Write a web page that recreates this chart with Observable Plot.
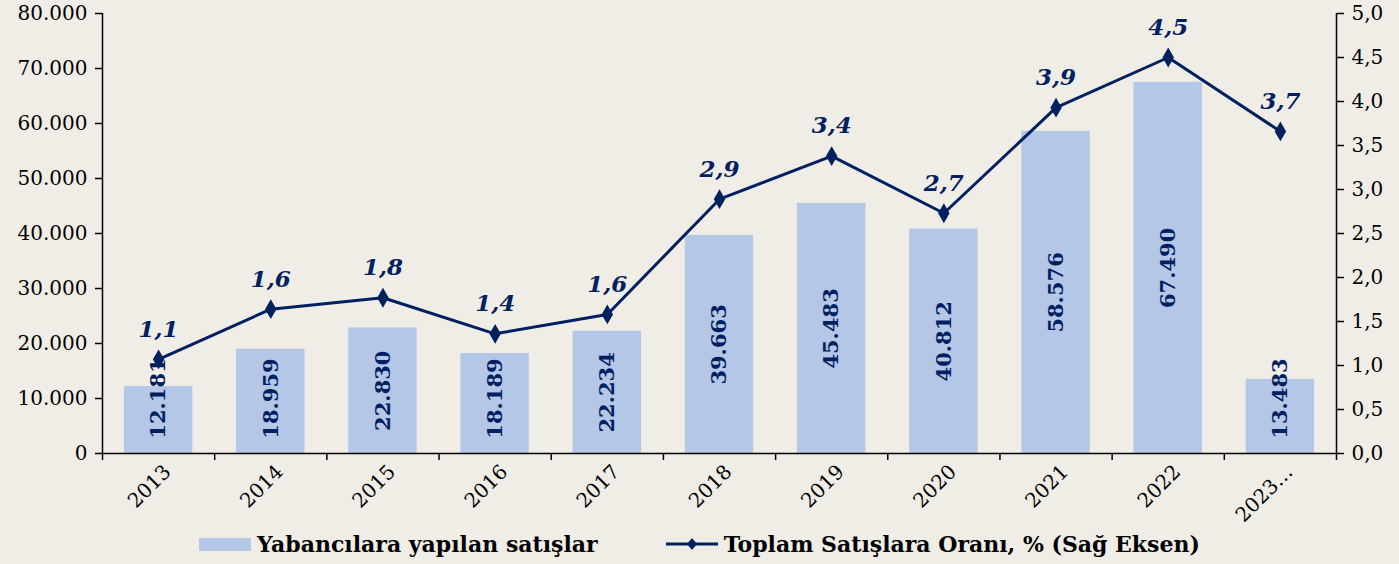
<!DOCTYPE html>
<html>
<head>
<meta charset="utf-8">
<script src="https://cdn.jsdelivr.net/npm/d3@7"></script>
<script src="https://cdn.jsdelivr.net/npm/@observablehq/plot@0.6"></script>
<style>
  html, body { margin: 0; padding: 0; background: #f0ede6; }
  body { width: 1399px; height: 564px; overflow: hidden; font-family: "DejaVu Serif", serif; }
  #chart svg { overflow: visible; display: block; }
  #legend { height: 40px; display: flex; justify-content: center; align-items: center; gap: 68px; font-weight: bold; font-size: 22px; color: #000; }
  .item { display: flex; align-items: center; gap: 6px; }
  .swatch { width: 52px; height: 13px; background: #b4c7e7; }
</style>
</head>
<body>
<div id="chart"></div>
<div id="legend">
  <div class="item"><div class="swatch"></div><span>Yabancılara yapılan satışlar</span></div>
  <div class="item"><svg width="52" height="16"><line x1="0" y1="8" x2="52" y2="8" stroke="#002060" stroke-width="3"/><path d="M26,2 L31,8 L26,14 L21,8 Z" fill="#002060"/></svg><span>Toplam Satışlara Oranı, % (Sağ Eksen)</span></div>
</div>
<script>
const years = ["2013","2014","2015","2016","2017","2018","2019","2020","2021","2022","2023…"];
const sales = [12181,18959,22830,18189,22234,39663,45483,40812,58576,67490,13483];
const ratio = [1.07,1.64,1.77,1.36,1.58,2.89,3.38,2.73,3.93,4.50,3.66];
const leftTicks = [0,10000,20000,30000,40000,50000,60000,70000,80000];
const rightTicks = [0,0.5,1,1.5,2,2.5,3,3.5,4,4.5,5];

const K = 80000 / 5; // right-axis factor
const gap = 0.195;
const navy = "#002060";
const rows = years.map((year, i) => ({i, year, sales: sales[i], ratio: ratio[i]}));
const fmtLeft = d => d3.format(",")(d).replace(/,/g, ".");
const fmtRight = d => (d / K).toFixed(1).replace(".", ",");

const chart = Plot.plot({
  width: 1399,
  height: 524,
  marginTop: 13,
  marginBottom: 71,
  marginLeft: 102,
  marginRight: 63,
  style: {fontFamily: "DejaVu Serif, serif", fontSize: "20px", background: "#f0ede6", color: "#000", overflow: "visible"},
  x: {domain: [0, years.length], axis: null},
  y: {domain: [0, 80000], axis: null},
  marks: [
    Plot.rectY(rows, {x1: d => d.i + gap, x2: d => d.i + 1 - gap, y: "sales", fill: "#b4c7e7"}),
    Plot.ruleY([0], {stroke: "#000", strokeWidth: 1.5}),
    Plot.ruleX([0, years.length], {y1: 0, y2: 80000, stroke: "#000", strokeWidth: 1.5}),
    Plot.axisY({anchor: "left", ticks: leftTicks, tickSize: 7, tickPadding: 8, tickFormat: fmtLeft, label: null, strokeWidth: 1.5}),
    Plot.axisY({anchor: "right", ticks: rightTicks.map(v => v * K), tickSize: 7, tickPadding: 8, tickFormat: fmtRight, label: null, strokeWidth: 1.5}),
    Plot.axisX({ticks: d3.range(years.length + 1), tickSize: 7, tickFormat: () => "", label: null, strokeWidth: 1.5}),
    Plot.text(rows, {x: d => d.i + 0.5, y: 0, text: "year", rotate: -45, textAnchor: "end", dx: 9, dy: 15, fontSize: 20}),
    Plot.text(rows, {x: d => d.i + 0.5, y: d => Math.max(d.sales / 2, 10000), text: d => fmtLeft(d.sales), rotate: -90, fill: navy, fontWeight: "bold", fontSize: 21}),
    Plot.line(rows, {x: d => d.i + 0.5, y: d => d.ratio * K, stroke: navy, strokeWidth: 3}),
    Plot.dot(rows, {x: d => d.i + 0.5, y: d => d.ratio * K, symbol: "diamond", r: 6, fill: navy}),
    Plot.text(rows, {x: d => d.i + 0.5, y: d => d.ratio * K, text: d => d.ratio.toFixed(1).replace(".", ","), dy: -30, fill: navy, fontWeight: "bold", fontStyle: "italic", fontSize: 23})
  ]
});
document.getElementById("chart").appendChild(chart);
</script>
</body>
</html>
